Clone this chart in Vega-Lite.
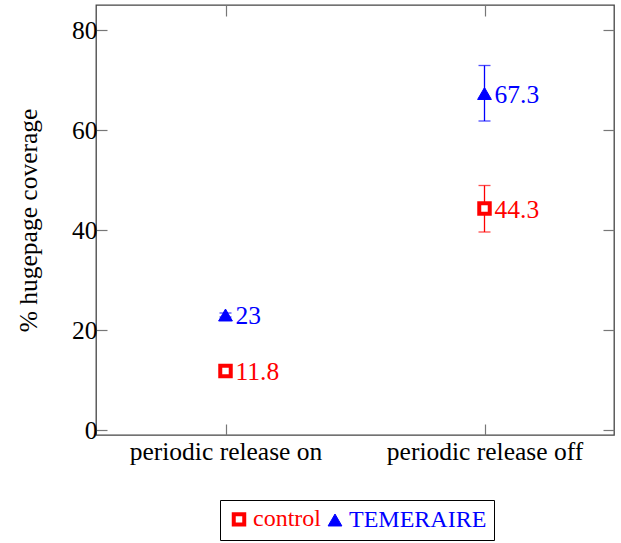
{
  "$schema": "https://vega.github.io/schema/vega-lite/v6.json",
  "width": 518,
  "height": 430,
  "autosize": {"type": "none"},
  "padding": {"left": 96, "top": 5, "right": 7, "bottom": 108},
  "config": {
    "font": "Liberation Serif",
    "view": {"stroke": "#444", "strokeWidth": 1.3},
    "axis": {
      "labelFont": "Liberation Serif",
      "labelFontSize": 25.5,
      "labelColor": "black",
      "labelLimit": 0,
      "titleFont": "Liberation Serif",
      "titleFontSize": 25.5,
      "titleFontWeight": "normal",
      "titleColor": "black",
      "grid": false,
      "domain": false,
      "tickColor": "#777",
      "tickWidth": 1.2,
      "tickSize": -11
    },
    "legend": {
      "title": null,
      "orient": "none",
      "legendX": 124,
      "legendY": 495,
      "direction": "horizontal",
      "strokeColor": "black",
      "fillColor": "white",
      "padding": 7,
      "columnPadding": 2,
      "labelOffset": 2,
      "labelFont": "Liberation Serif",
      "labelFontSize": 24,
      "labelLimit": 0,
      "symbolOpacity": 1
    }
  },
  "data": {
    "values": [
      {"setting": "periodic release on", "series": "control", "value": 11.8, "lo": 11.3, "hi": 12.3},
      {"setting": "periodic release on", "series": "TEMERAIRE", "value": 23, "lo": 22.6, "hi": 23.4},
      {"setting": "periodic release off", "series": "control", "value": 44.3, "lo": 39.6, "hi": 48.9},
      {"setting": "periodic release off", "series": "TEMERAIRE", "value": 67.3, "lo": 61.8, "hi": 72.9}
    ]
  },
  "resolve": {"axis": {"x": "independent", "y": "independent"}},
  "layer": [
    {
      "mark": {"type": "rule", "strokeWidth": 1.3},
      "encoding": {
        "x": {
          "field": "setting", "type": "nominal", "sort": null,
          "scale": {"type": "point", "padding": 0.5},
          "axis": {"title": null, "labelAngle": 0, "labelPadding": 15, "orient": "bottom"}
        },
        "y": {
          "field": "lo", "type": "quantitative",
          "scale": {"domain": [-1, 85], "nice": false, "zero": false},
          "axis": {"title": "% hugepage coverage", "values": [0, 20, 40, 60, 80], "labelPadding": 10, "titlePadding": 30, "orient": "left"}
        },
        "y2": {"field": "hi"},
        "color": {
          "field": "series", "type": "nominal",
          "scale": {"domain": ["TEMERAIRE", "control"], "range": ["#0000ff", "#ff0000"]},
          "legend": null
        }
      }
    },
    {
      "mark": {"type": "tick", "orient": "horizontal", "size": 12, "thickness": 1.3},
      "encoding": {
        "x": {
          "field": "setting", "type": "nominal", "sort": null,
          "axis": {"title": null, "labels": false, "orient": "top"}
        },
        "y": {
          "field": "lo", "type": "quantitative",
          "axis": {"title": null, "labels": false, "values": [0, 20, 40, 60, 80], "orient": "right"}
        },
        "color": {"field": "series", "type": "nominal", "legend": null}
      }
    },
    {
      "mark": {"type": "tick", "orient": "horizontal", "size": 12, "thickness": 1.3},
      "encoding": {
        "x": {"field": "setting", "type": "nominal", "sort": null, "axis": null},
        "y": {"field": "hi", "type": "quantitative", "axis": null},
        "color": {"field": "series", "type": "nominal", "legend": null}
      }
    },
    {
      "mark": {"type": "point", "opacity": 1, "filled": false},
      "encoding": {
        "x": {"field": "setting", "type": "nominal", "sort": null, "axis": null},
        "y": {"field": "value", "type": "quantitative", "axis": null},
        "shape": {
          "field": "series", "type": "nominal", "title": null,
          "scale": {"domain": ["control", "TEMERAIRE"], "range": ["square", "triangle-up"]},
          "legend": {
            "labelFont": "Liberation Serif",
            "labelColor": {"expr": "datum.value === 'control' ? '#ff0000' : '#0000ff'"}
          }
        },
        "fill": {
          "field": "series", "type": "nominal", "title": null,
          "scale": {"domain": ["control", "TEMERAIRE"], "range": ["#ffffff", "#0000ff"]}
        },
        "stroke": {
          "field": "series", "type": "nominal", "title": null,
          "scale": {"domain": ["control", "TEMERAIRE"], "range": ["#ff0000", "#0000ff"]}
        },
        "strokeWidth": {
          "field": "series", "type": "nominal", "title": null,
          "scale": {"domain": ["control", "TEMERAIRE"], "range": [4, 1]}
        },
        "size": {
          "field": "series", "type": "nominal", "title": null,
          "scale": {"domain": ["control", "TEMERAIRE"], "range": [110, 190]}
        }
      }
    },
    {
      "mark": {"type": "text", "align": "left", "baseline": "middle", "dx": 10, "dy": 1, "fontSize": 25.5, "font": "Liberation Serif"},
      "encoding": {
        "x": {"field": "setting", "type": "nominal", "sort": null, "axis": null},
        "y": {"field": "value", "type": "quantitative", "axis": null},
        "text": {"field": "value", "type": "quantitative"},
        "color": {"field": "series", "type": "nominal", "legend": null}
      }
    }
  ]
}
